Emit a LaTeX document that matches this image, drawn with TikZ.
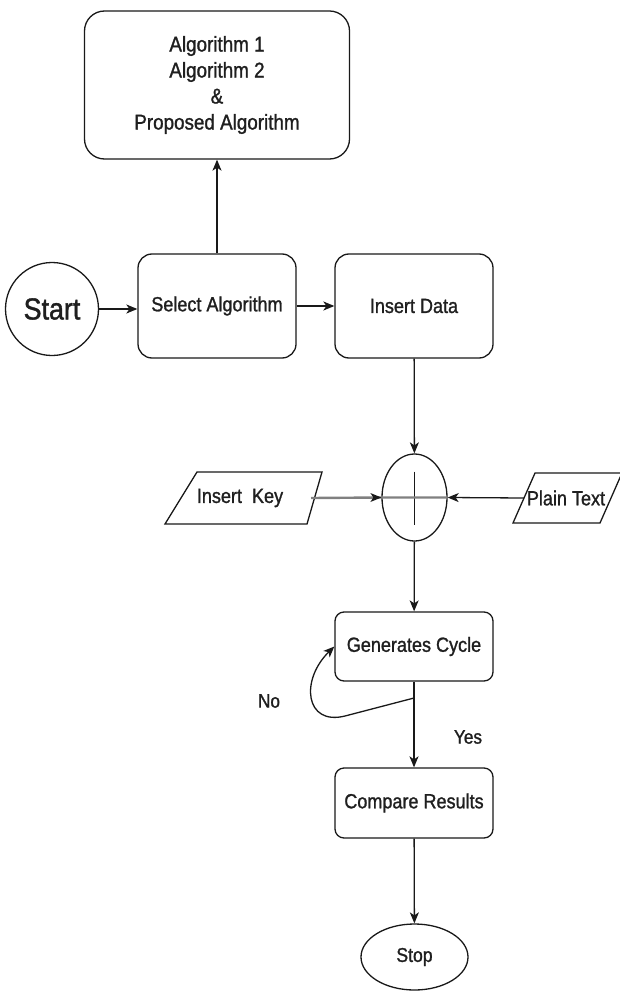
\documentclass[tikz,border=0pt]{standalone}
\usepackage{fontspec}
\setmainfont{Liberation Sans}[FakeStretch=0.88,FakeBold=1.2]
\usetikzlibrary{arrows.meta,shapes.geometric}

\begin{document}
\begin{tikzpicture}[x=1pt,y=-1pt,
  ink/.style={draw=black!90, line width=1.3pt},
  txt/.style={text=black!88, font=\fontsize{20.5}{24}\selectfont},
  box/.style={ink, txt, rounded corners=14pt, align=center, inner sep=0pt,
              minimum width=158pt, minimum height=104pt},
  smallbox/.style={box, rounded corners=9pt, minimum height=69pt},
  oval/.style={ink, txt, ellipse, inner sep=0pt},
  arr/.style={ink, -{Stealth[length=11pt,width=9pt,inset=3pt]}},
  keyline/.style={draw=black!50, line width=2.4pt},
  lbl/.style={txt, inner sep=0pt}
]
\useasboundingbox (0,0) rectangle (619,992);

% process boxes
\node[box, rounded corners=20pt, minimum width=265pt, minimum height=148pt,
      font=\fontsize{21.4}{26}\selectfont] (algs) at (217,85)
      {Algorithm 1\\Algorithm 2\\\&\\Proposed Algorithm};
\node[oval, minimum width=93pt, minimum height=93pt,
      font=\fontsize{30.5}{33}\selectfont] (start) at (52,309) {Start};
\node[box] (select) at (217,306) {Select Algorithm};
\node[box] (data) at (414,306) {Insert Data};

% XOR junction
\node[ink, ellipse, minimum width=65pt, minimum height=87pt, inner sep=0pt] (xor) at (414.5,497.5) {};
\draw[ink] (xor.center) ++(0,-26) -- ++(0,53);

% input parallelograms
\draw[ink] (165,524) -- (197,472) -- (322,472) -- (307,524) -- cycle;
\node[lbl] (key) at (240,498) {Insert\ \ Key};
\coordinate (keyR) at (311,498);
\draw[ink] (513,523) -- (535,473) -- (622,473) -- (600,523) -- cycle;
\node[lbl] (plain) at (566,498) {Plain Text};
\coordinate (plainL) at (524,498);

\node[smallbox] (gen) at (414,646.5) {Generates Cycle};
\node[smallbox, minimum height=70pt] (cmp) at (414,803) {Compare Results};
\node[oval, minimum width=107pt, minimum height=66pt, font=\fontsize{20}{24}\selectfont] (stop) at (414.5,957) {Stop};

% connectors
\draw[arr] (start.east) -- (start.east -| select.west);
\draw[arr] (select.north) -- (algs.south);
\draw[arr] (select) -- (data);
\draw[arr] (data) -- (xor);
\draw[keyline] (keyR) -- (xor.west) -- (xor.east);
\fill[black!90] (xor.west) -- ++(-11,-4.5) -- ++(3,4.5) -- ++(-3,4.5) -- cycle;
\draw[arr] (plainL) -- (xor.east);
\draw[arr] (xor) -- (gen);
\draw[arr] (gen) -- (cmp);
\draw[arr] (cmp) -- (stop);

% "No" feedback loop
\coordinate (loopS) at (414,698);
\draw[arr] (loopS) -- (345,716) .. controls (305,726) and (300,680) .. (gen.west);

\node[lbl, font=\fontsize{19.5}{22}\selectfont] (no) at (269,701) {No};
\node[lbl, font=\fontsize{19.5}{22}\selectfont] (yes) at (468,737) {Yes};
\end{tikzpicture}
\end{document}
